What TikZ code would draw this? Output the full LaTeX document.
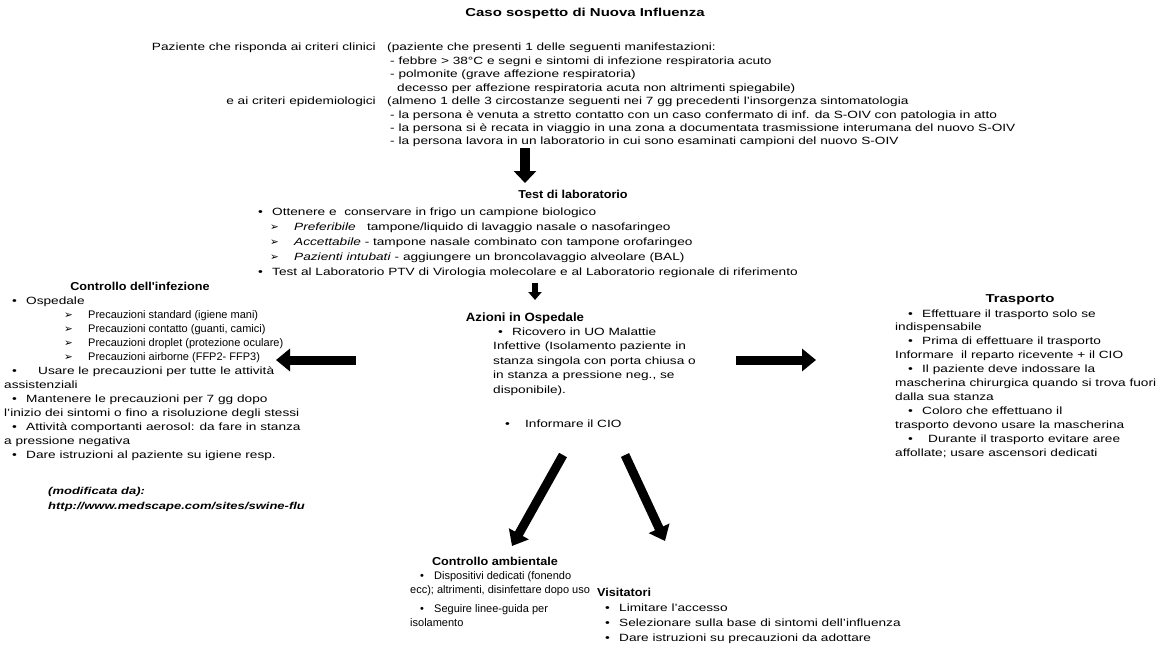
\documentclass[tikz,border=0pt]{standalone}
\usepackage{fontspec}
\setmainfont{Liberation Sans}[FakeStretch=1.3]
\newfontfamily\medio{Liberation Sans}[FakeStretch=1.1]
\newfontfamily\stretto{Liberation Sans}[FakeStretch=1.0]
\newfontfamily\dingfont{DejaVu Sans}
\usetikzlibrary{arrows.meta}

\tikzset{
  testo/.style={anchor=base west, align=left, inner sep=0pt,
    font=\fontsize{10.5}{14}\selectfont},
  titolo/.style={anchor=base, inner sep=0pt,
    font=\fontsize{11.5}{13}\selectfont\bfseries},
  freccia/.style={line width=9pt, -{Triangle[length=14pt,width=22pt]}},
}
\newcommand{\pto}{\makebox[14pt][l]{•}}
\newcommand{\frc}{\makebox[24pt][l]{\dingfont ➢}}

\begin{document}
\begin{tikzpicture}[x=1pt,y=-1pt]
    \useasboundingbox (0,0) rectangle (1169,658);
    % 标题和判定标准 (多行节点: base = 最后一行)
    \node[titolo] (caso) at (585,17) {Caso sospetto di Nuova Influenza};
    \node[testo, anchor=base east] (clinici) at (376,51) {Paziente che risponda ai criteri clinici};
    \node[testo, font=\fontsize{10.5}{13.4}\selectfont] (manif) at (387,91.2)
        {(paziente che presenti 1 delle seguenti manifestazioni:\\
         \hspace{3pt}- febbre > 38°C e segni e sintomi di infezione respiratoria acuto\\
         \hspace{3pt}- polmonite (grave affezione respiratoria)\\
         \hspace{10pt}decesso per affezione respiratoria acuta non altrimenti spiegabile)};
    \node[testo, anchor=base east] (epidem) at (376,104.6) {e ai criteri epidemiologici};
    \node[testo, font=\fontsize{10.5}{13.4}\selectfont] (circ) at (387,144.8)
        {(almeno 1 delle 3 circostanze seguenti nei 7 gg precedenti l'insorgenza sintomatologia\\
         \hspace{3pt}- la persona è venuta a stretto contatto con un caso confermato di inf. da S-OIV con patologia in atto\\
         \hspace{3pt}- la persona si è recata in viaggio in una zona a documentata trasmissione interumana del nuovo S-OIV\\
         \hspace{3pt}- la persona lavora in un laboratorio in cui sono esaminati campioni del nuovo S-OIV};

    % 实验室检查
    \coordinate (f1a) at (525,148);
    \coordinate (f1b) at (525,183);
    \draw[freccia, line width=10pt, -{Triangle[length=12pt,width=22pt]}] (f1a) -- (f1b);
    \node[titolo, font=\fontsize{11.5}{13}\selectfont\medio\bfseries] (test) at (573,198) {Test di laboratorio};
    \node[testo, font=\fontsize{10.5}{15}\selectfont] (lab) at (258,275)
        {\pto Ottenere e\ \ conservare in frigo un campione biologico\\
         \hspace{12pt}\frc\textit{Preferibile}\ \ \ tampone/liquido di lavaggio nasale o nasofaringeo\\
         \hspace{12pt}\frc\textit{Accettabile} - tampone nasale combinato con tampone orofaringeo\\
         \hspace{12pt}\frc\textit{Pazienti intubati} - aggiungere un broncolavaggio alveolare (BAL)\\
         \pto Test al Laboratorio PTV di Virologia molecolare e al Laboratorio regionale di riferimento};
    \coordinate (f2a) at (535,283);
    \coordinate (f2b) at (535,300);
    \draw[line width=6pt, -{Triangle[length=8pt,width=13pt]}] (f2a) -- (f2b);

    % 医院内措施
    \node[titolo, font=\fontsize{12}{13}\selectfont\medio\bfseries] (azioni) at (525,321) {Azioni in Ospedale};
    \node[testo, font=\fontsize{10.5}{14.5}\selectfont] (ricovero) at (493,393)
        {\hspace{5pt}\pto Ricovero in UO Malattie\\
         Infettive (Isolamento paziente in\\
         stanza singola con porta chiusa o\\
         in stanza a pressione neg., se\\
         disponibile).};
    \node[testo] (cio) at (505,427) {\makebox[20pt][l]{•}Informare il CIO};

    % 四个方向的箭头
    \coordinate (fsa) at (356,360);
    \coordinate (fsb) at (276,360);
    \coordinate (fda) at (736,360);
    \coordinate (fdb) at (816,360);
    \coordinate (faa) at (563,455);
    \coordinate (fab) at (512,546);
    \coordinate (fva) at (625,455);
    \coordinate (fvb) at (665,541);
    \draw[freccia] (fsa) -- (fsb);
    \draw[freccia] (fda) -- (fdb);
    \draw[freccia] (faa) -- (fab);
    \draw[freccia] (fva) -- (fvb);

    % 感染控制
    \node[titolo, font=\fontsize{11.5}{13}\selectfont\medio\bfseries] (infez) at (140,290) {Controllo dell'infezione};
    \node[testo] (osped) at (4,458)
        {\hspace{8pt}\pto Ospedale\\
         \hspace{60pt}\frc{\fontsize{11}{14}\stretto Precauzioni standard (igiene mani)}\\
         \hspace{60pt}\frc{\fontsize{11}{14}\stretto Precauzioni contatto (guanti, camici)}\\
         \hspace{60pt}\frc{\fontsize{11}{14}\stretto Precauzioni droplet (protezione oculare)}\\
         \hspace{60pt}\frc{\fontsize{11}{14}\stretto Precauzioni airborne (FFP2- FFP3)}\\
         \hspace{8pt}\makebox[26pt][l]{•}Usare le precauzioni per tutte le attività\\
         assistenziali\\
         \hspace{8pt}\pto Mantenere le precauzioni per 7 gg dopo\\
         l'inizio dei sintomi o fino a risoluzione degli stessi\\
         \hspace{8pt}\pto Attività comportanti aerosol: da fare in stanza\\
         a pressione negativa\\
         \hspace{8pt}\pto Dare istruzioni al paziente su igiene resp.};
    \node[testo, font=\fontsize{10}{15}\selectfont\bfseries\itshape] (fonte) at (48,509)
        {(modificata da):\\ http://www.medscape.com/sites/swine-flu};

    % 转运
    \node[titolo] (trasp) at (1020,302) {Trasporto};
    \node[testo, font=\fontsize{10.5}{13.9}\selectfont] (trasporto) at (895,456)
        {\hspace{13pt}\pto Effettuare il trasporto solo se\\
         indispensabile\\
         \hspace{13pt}\pto Prima di effettuare il trasporto\\
         Informare\ \ il reparto ricevente + il CIO\\
         \hspace{13pt}\pto Il paziente deve indossare la\\
         mascherina chirurgica quando si trova fuori\\
         dalla sua stanza\\
         \hspace{13pt}\pto Coloro che effettuano il\\
         trasporto devono usare la mascherina\\
         \hspace{13pt}\makebox[20pt][l]{•}Durante il trasporto evitare aree\\
         affollate; usare ascensori dedicati};

    % 环境控制和访客
    \node[titolo, font=\fontsize{11.5}{13}\selectfont\medio\bfseries] (amb) at (495,565) {Controllo ambientale};
    \node[testo, font=\fontsize{11}{14}\selectfont\stretto] (dispos) at (410,626)
        {\hspace{10pt}\pto Dispositivi dedicati (fonendo\\
         ecc); altrimenti, disinfettare dopo uso\\[5pt]
         \hspace{10pt}\pto Seguire linee-guida per\\
         isolamento};
    \node[titolo, anchor=base west, font=\fontsize{11.5}{13}\selectfont\medio\bfseries] (visit) at (597,596) {Visitatori};
    \node[testo, font=\fontsize{10.5}{15}\selectfont] (visite) at (605,641)
        {\pto Limitare l'accesso\\
         \pto Selezionare sulla base di sintomi dell'influenza\\
         \pto Dare istruzioni su precauzioni da adottare};
\end{tikzpicture}
\end{document}
